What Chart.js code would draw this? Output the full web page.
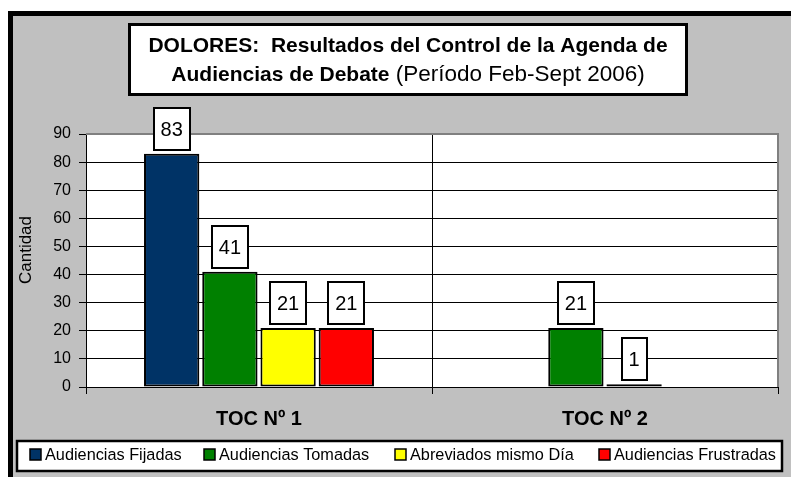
<!DOCTYPE html>
<html>
<head>
<meta charset="utf-8">
<script src="https://cdn.jsdelivr.net/npm/chart.js@4/dist/chart.umd.min.js"></script>
<style>
html,body{margin:0;padding:0;background:#fff;}
canvas{display:block;}
</style>
</head>
<body>
<canvas id="c" width="791" height="477"></canvas>
<script>
// ---- data ----
const categories = ['TOC Nº 1', 'TOC Nº 2'];
const seriesNames = ['Audiencias Fijadas', 'Audiencias Tomadas', 'Abreviados mismo Día', 'Audiencias Frustradas'];
const fijadas = [83, null];
const tomadas = [41, 21];
const abreviados = [21, 1];
const frustradas = [21, null];
const yTickValues = [0, 10, 20, 30, 40, 50, 60, 70, 80, 90];
const titleLine1 = 'DOLORES:  Resultados del Control de la Agenda de';
const titleLine2Bold = 'Audiencias de Debate';
const titleLine2Normal = ' (Período Feb-Sept 2006)';
const yAxisTitle = 'Cantidad';

// ---- styles ----
const FONT = '"Liberation Sans", Arial, Helvetica, sans-serif';
const seriesColors = ['#003366', '#008000', '#FFFF00', '#FF0000'];
const legendX = [30, 204, 395, 599];

Chart.defaults.font.family = FONT;
Chart.defaults.color = '#000';

const decor = {
  id: 'decor',
  beforeDraw(chart) {
    const ctx = chart.ctx, W = chart.width, H = chart.height, a = chart.chartArea;
    ctx.save();
    ctx.fillStyle = '#fff'; ctx.fillRect(0, 0, W, H);
    ctx.fillStyle = '#000'; ctx.fillRect(8, 11, W - 8, H - 11);
    ctx.fillStyle = '#c0c0c0'; ctx.fillRect(13, 16, W - 13, H - 16);
    ctx.fillStyle = '#fff'; ctx.fillRect(a.left, a.top, a.right - a.left, a.bottom - a.top);
    ctx.restore();
  },
  afterDatasetsDraw(chart) {
    const ctx = chart.ctx, a = chart.chartArea;
    ctx.save();
    ctx.strokeStyle = '#808080'; ctx.lineWidth = 2;
    ctx.beginPath();
    ctx.moveTo(a.left, a.top); ctx.lineTo(a.right, a.top); ctx.lineTo(a.right, a.bottom);
    ctx.stroke();
    ctx.font = '20px ' + FONT;
    chart.data.datasets.forEach((ds, i) => {
      const meta = chart.getDatasetMeta(i);
      meta.data.forEach((bar, j) => {
        const v = ds.data[j];
        if (v === null || v === undefined) return;
        const txt = String(v);
        const w = Math.round(ctx.measureText(txt).width + 14);
        const h = 42;
        const bx = Math.round(bar.x - w / 2), by = Math.round(bar.y - 4 - h);
        ctx.fillStyle = '#fff'; ctx.fillRect(bx, by, w, h);
        ctx.strokeStyle = '#000'; ctx.lineWidth = 2; ctx.strokeRect(bx, by, w, h);
        ctx.fillStyle = '#000'; ctx.textAlign = 'center'; ctx.textBaseline = 'alphabetic';
        ctx.fillText(txt, bar.x, by + h / 2 + 7);
      });
    });
    ctx.restore();
  },
  afterDraw(chart) {
    const ctx = chart.ctx;
    ctx.save();
    // title box
    ctx.fillStyle = '#fff'; ctx.fillRect(129.5, 24.5, 557, 70);
    ctx.strokeStyle = '#000'; ctx.lineWidth = 3; ctx.strokeRect(129.5, 24.5, 557, 70);
    ctx.fillStyle = '#000'; ctx.textBaseline = 'alphabetic'; ctx.textAlign = 'left';
    ctx.font = 'bold 21px ' + FONT;
    const w1 = ctx.measureText(titleLine1).width;
    ctx.fillText(titleLine1, 408 - w1 / 2, 52);
    const wb = ctx.measureText(titleLine2Bold).width;
    ctx.font = '22.5px ' + FONT;
    const wn = ctx.measureText(titleLine2Normal).width;
    const x2 = 408 - (wb + wn) / 2;
    ctx.font = 'bold 21px ' + FONT;
    ctx.fillText(titleLine2Bold, x2, 81);
    ctx.font = '22.5px ' + FONT;
    ctx.fillText(titleLine2Normal, x2 + wb, 81);

    // y axis title
    ctx.save();
    ctx.translate(26, 250);
    ctx.rotate(-Math.PI / 2);
    ctx.font = '17px ' + FONT;
    ctx.textAlign = 'center'; ctx.textBaseline = 'middle';
    ctx.fillText(yAxisTitle, 0, 0);
    ctx.restore();

    // legend box
    ctx.fillStyle = '#fff'; ctx.fillRect(17, 441, 765, 30);
    ctx.strokeStyle = '#000'; ctx.lineWidth = 2.5; ctx.strokeRect(17, 441, 765, 30);
    ctx.font = '16.3px ' + FONT;
    ctx.textAlign = 'left'; ctx.textBaseline = 'middle';
    seriesNames.forEach((name, i) => {
      const x = legendX[i];
      ctx.fillStyle = seriesColors[i];
      ctx.fillRect(x, 449, 11, 11);
      ctx.strokeStyle = '#000'; ctx.lineWidth = 1.5;
      ctx.strokeRect(x, 449, 11, 11);
      ctx.fillStyle = '#000';
      ctx.fillText(name, x + 15, 456);
    });
    ctx.restore();
  }
};

const datasetValues = [fijadas, tomadas, abreviados, frustradas];

new Chart(document.getElementById('c'), {
  type: 'bar',
  data: {
    labels: categories,
    datasets: seriesNames.map((name, i) => ({
      label: name,
      data: datasetValues[i],
      backgroundColor: seriesColors[i],
      borderColor: '#000',
      borderWidth: 2,
      borderSkipped: false,
      categoryPercentage: 0.673,
      barPercentage: 0.95
    }))
  },
  options: {
    responsive: false,
    animation: false,
    events: [],
    layout: { padding: { left: 0, top: 134, right: 13, bottom: 0 } },
    plugins: { legend: { display: false }, title: { display: false }, tooltip: { enabled: false } },
    scales: {
      x: {
        afterFit(s) { s.height = 90; },
        grid: { color: '#000', lineWidth: 1, tickLength: 7, tickColor: '#000', offset: true },
        border: { color: '#000', width: 1 },
        ticks: { font: { size: 20, weight: 'bold' }, padding: 13, color: '#000' }
      },
      y: {
        min: 0, max: 90,
        afterFit(s) { s.width = 86; },
        afterBuildTicks(s) { s.ticks = yTickValues.map(v => ({ value: v })); },
        grid: { color: '#000', lineWidth: 1, tickLength: 7, tickColor: '#000' },
        border: { color: '#000', width: 1 },
        ticks: { font: { size: 16 }, padding: 8, color: '#000' }
      }
    }
  },
  plugins: [decor]
});
</script>
</body>
</html>
